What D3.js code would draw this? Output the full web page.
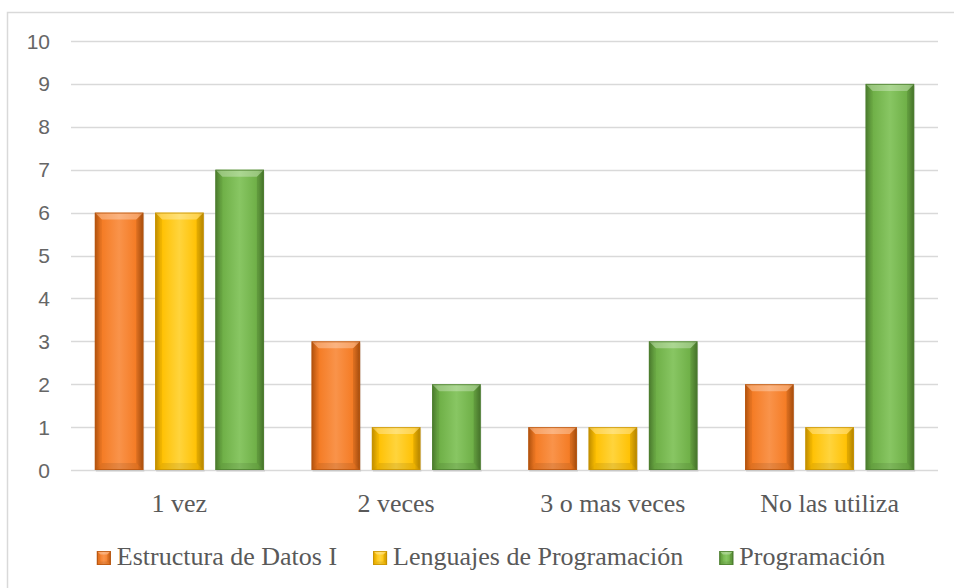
<!DOCTYPE html>
<html>
<head>
<meta charset="utf-8">
<script src="https://cdn.jsdelivr.net/npm/d3@7"></script>
<style>
  body { margin: 0; background: #fff; }
  .tick-label { font-family: "Liberation Sans", Arial, sans-serif; font-size: 21px; fill: #666666; }
  .cat-label, .legend-text { font-family: "Liberation Serif", "Times New Roman", serif; font-size: 26px; fill: #595959; }
</style>
</head>
<body>
<script>
(function (){

    //chart data
    var categories = ["1 vez", "2 veces", "3 o mas veces", "No las utiliza"];
    var seriesNames = ["Estructura de Datos I", "Lenguajes de Programación", "Programación"];
    var estructura = [6, 3, 1, 2];
    var lenguajes = [6, 1, 1, 1];
    var programacion = [7, 2, 3, 9];
    var yTicks = [0, 1, 2, 3, 4, 5, 6, 7, 8, 9, 10];

    var seriesValues = [estructura, lenguajes, programacion];
    var colors = [
        {dark: "#B9560F", base: "#F47A22", light: "#F9934A"},
        {dark: "#C99400", base: "#FFC000", light: "#FFD43C"},
        {dark: "#4E8030", base: "#6DAE45", light: "#88C663"}
    ];

    var width = 954, height = 588;
    var plotLeft = 71, plotRight = 938, plotTop = 41, plotBottom = 470;

    var svg = d3.select("body")
        .append("svg")
        .attr("width", width)
        .attr("height", height);

    //gradients for each series
    var defs = svg.append("defs");
    colors.forEach(function(c, i){
        var g = defs.append("linearGradient")
            .attr("id", "grad" + i)
            .attr("x1", "0%").attr("x2", "100%")
            .attr("y1", "0%").attr("y2", "0%");
        g.append("stop").attr("offset", "0%").attr("stop-color", c.dark);
        g.append("stop").attr("offset", "12%").attr("stop-color", c.base);
        g.append("stop").attr("offset", "50%").attr("stop-color", c.light);
        g.append("stop").attr("offset", "88%").attr("stop-color", c.base);
        g.append("stop").attr("offset", "100%").attr("stop-color", c.dark);
    });

    //outer frame
    svg.append("rect")
        .attr("x", 7.5)
        .attr("y", 12.5)
        .attr("width", width)
        .attr("height", height)
        .attr("fill", "none")
        .attr("stroke", "#d9d9d9")
        .attr("stroke-width", 1.5);

    var yScale = d3.scaleLinear()
        .domain([0, 10])
        .range([plotBottom, plotTop]);

    var xScale = d3.scaleBand()
        .domain(categories)
        .range([plotLeft, plotRight])
        .paddingInner(0.22)
        .paddingOuter(0.11);

    var xInner = d3.scaleBand()
        .domain(d3.range(seriesNames.length))
        .range([0, xScale.bandwidth()])
        .paddingInner(0.195);

    //gridlines
    svg.selectAll(".grid")
        .data(yTicks)
        .enter()
        .append("line")
        .attr("class", "grid")
        .attr("x1", plotLeft)
        .attr("x2", plotRight)
        .attr("y1", function(d){ return Math.round(yScale(d)) + 0.5; })
        .attr("y2", function(d){ return Math.round(yScale(d)) + 0.5; })
        .attr("stroke", "#d9d9d9")
        .attr("stroke-width", 1.3);

    //y tick labels
    svg.selectAll(".tick-label")
        .data(yTicks)
        .enter()
        .append("text")
        .attr("class", "tick-label")
        .attr("x", 50)
        .attr("y", function(d){ return yScale(d); })
        .attr("dy", "0.36em")
        .attr("text-anchor", "end")
        .text(function(d){ return d; });

    //draw a bevelled bar
    function bevelBar(g, x, y, w, h, i, b){
        g.append("rect")
            .attr("x", x).attr("y", y)
            .attr("width", w).attr("height", h)
            .attr("fill", "url(#grad" + i + ")");
        //top bevel
        g.append("path")
            .attr("d", "M" + x + "," + y + "L" + (x + w) + "," + y + "L" + (x + w - b) + "," + (y + b) + "L" + (x + b) + "," + (y + b) + "Z")
            .attr("fill", "#fff").attr("opacity", 0.3);
        //bottom bevel
        g.append("path")
            .attr("d", "M" + x + "," + (y + h) + "L" + (x + w) + "," + (y + h) + "L" + (x + w - b) + "," + (y + h - b) + "L" + (x + b) + "," + (y + h - b) + "Z")
            .attr("fill", "#000").attr("opacity", 0.08);
        //left bevel
        g.append("path")
            .attr("d", "M" + x + "," + y + "L" + (x + b) + "," + (y + b) + "L" + (x + b) + "," + (y + h - b) + "L" + x + "," + (y + h) + "Z")
            .attr("fill", "#000").attr("opacity", 0.06);
        //right bevel
        g.append("path")
            .attr("d", "M" + (x + w) + "," + y + "L" + (x + w - b) + "," + (y + b) + "L" + (x + w - b) + "," + (y + h - b) + "L" + (x + w) + "," + (y + h) + "Z")
            .attr("fill", "#000").attr("opacity", 0.12);
        g.append("rect")
            .attr("x", x + 0.5).attr("y", y + 0.5)
            .attr("width", w - 1).attr("height", h - 1)
            .attr("fill", "none")
            .attr("stroke", colors[i].dark)
            .attr("stroke-opacity", 0.8)
            .attr("stroke-width", 1);
    }

    //bars
    var barsLayer = svg.append("g");
    seriesValues.forEach(function(vals, i){
        vals.forEach(function(v, j){
            var x = xScale(categories[j]) + xInner(i);
            var y = yScale(v);
            var h = yScale(0) - y;
            var w = xInner.bandwidth();
            var g = barsLayer.append("g").attr("class", "bar s" + i);
            //soft shadow
            g.append("rect")
                .attr("x", x + 1).attr("y", y + 2)
                .attr("width", w).attr("height", h)
                .attr("fill", "#000").attr("opacity", 0.08);
            bevelBar(g, x, y, w, h, i, Math.min(7, h / 2));
        });
    });

    //category labels
    svg.selectAll(".cat-label")
        .data(categories)
        .enter()
        .append("text")
        .attr("class", "cat-label")
        .attr("x", function(d){ return xScale(d) + xScale.bandwidth() / 2; })
        .attr("y", 512)
        .attr("text-anchor", "middle")
        .text(function(d){ return d; });

    //legend
    var legend = svg.append("g");
    var markerSize = 14, markerGap = 6, itemGap = 36;
    var items = seriesNames.map(function(name, i){
        var g = legend.append("g");
        bevelBar(g, 0, -markerSize, markerSize, markerSize, i, 3.5);
        var t = g.append("text")
            .attr("class", "legend-text")
            .attr("x", markerSize + markerGap)
            .attr("y", 0)
            .text(name);
        return {g: g, w: markerSize + markerGap + t.node().getComputedTextLength()};
    });
    var total = d3.sum(items, function(d){ return d.w; }) + itemGap * (items.length - 1);
    var cx = 491 - total / 2;
    items.forEach(function(it){
        it.g.attr("transform", "translate(" + cx + ",565)");
        cx += it.w + itemGap;
    });

})();
</script>
</body>
</html>
